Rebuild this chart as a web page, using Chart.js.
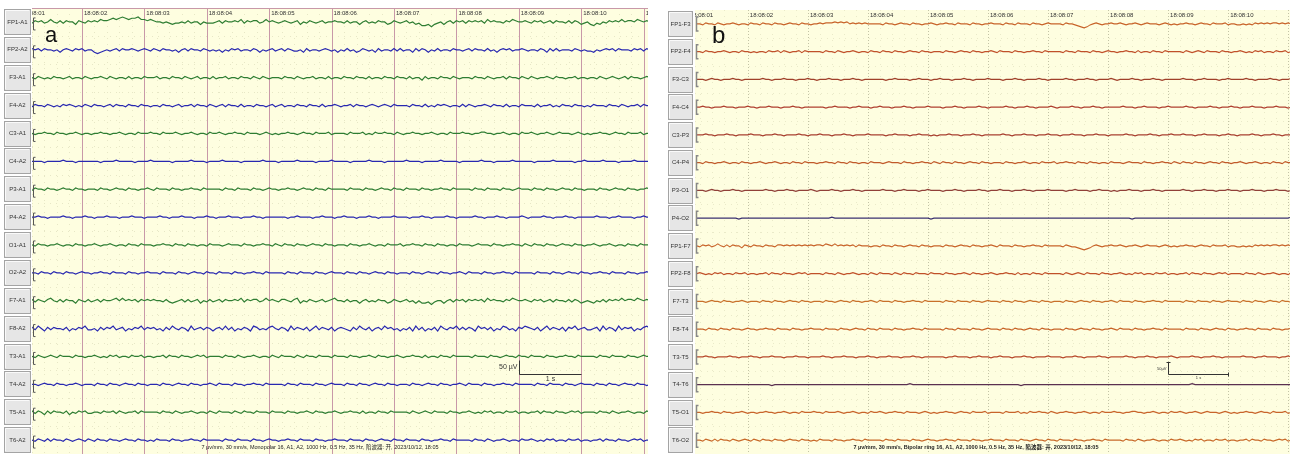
<!DOCTYPE html>
<html><head><meta charset="utf-8">
<script src="https://cdn.jsdelivr.net/npm/chart.js@4.4.0/dist/chart.umd.min.js"></script>
<style>
html,body{margin:0;padding:0;background:#fff;width:1290px;height:454px;overflow:hidden}
canvas{position:absolute;top:0}
#ca{left:0}
#cb{left:650px}
</style></head><body>
<canvas id="ca" width="650" height="454"></canvas>
<canvas id="cb" width="640" height="454"></canvas>
<script>
// 导联名
var chA = ['FP1-A1','FP2-A2','F3-A1','F4-A2','C3-A1','C4-A2','P3-A1','P4-A2','O1-A1','O2-A2','F7-A1','F8-A2','T3-A1','T4-A2','T5-A1','T6-A2'];
var chB = ['FP1-F3','FP2-F4','F3-C3','F4-C4','C3-P3','C4-P4','P3-O1','P4-O2','FP1-F7','FP2-F8','F7-T3','F8-T4','T3-T5','T4-T6','T5-O1','T6-O2'];
// 秒刻度
var secValues = [1,2,3,4,5,6,7,8,9,10,11];
var secLabels = ['18:08:01','18:08:02','18:08:03','18:08:04','18:08:05','18:08:06','18:08:07','18:08:08','18:08:09','18:08:10','18:08:11'];
var t0 = 1.15, dt = 0.05; // 采样起点(s), 间隔(s)
var uvStepA = 4.4, uvStepB = 3.6; // 每级µV
var footA = '7 µv/mm, 30 mm/s, Monopolar 16, A1, A2, 1000 Hz, 0.5 Hz, 35 Hz, 陷波器: 开, 2023/10/12, 18:05';
var footB = '7 µv/mm, 30 mm/s, Bipolar ring 16, A1, A2, 1000 Hz, 0.5 Hz, 35 Hz, 陷波器: 开, 2023/10/12, 18:05';

// 波形 (每秒一组, 5=基线)
var wavesA = [
 '54656457546465536546 56576678789878897767 65545434454645535444 56465565746566457565 45654563546545645565 54645535645465534654 56453422313453564656 46565647565546576556 54656456465546465345 32435465657566576565',
 '56564655453565465645 53234545646556545654 65465545356465546545 45354656455465354564 56465445364554565453 54645346545364554646 45536465354645546554 56465546453565645565 45546536464555465454 43545656465554656465',
 '55465454655456455465 45565465455464554655 56455465546545645546 45564554655465465455 54655465455645546455 46554655464554655465 54645536455465546545 55465546545564655465 46545565465545564554 55465456545646554565',
 '54655465454656545465 46554564655465546554 55465545645564655465 45646554645546554564 56455465546554645565 45564655456545654655 55465546454656545546 46545565465546455465 55464556454655465545 46555465546545564655',
 '55455655465545565455 45565545565455465556 55465556545565455465 56545565546555456545 45565545655465556455 55465556454655655465 45565545565455465556 55455665545565455465 56545565456555456545 45565545655465556455',
 '55555455555655545555 55545555655555455556 55555545555565555455 55655555455555565555 45555565555545555655 55545555565555455555 56555545555565555545 55555655545555565555 55455555655555545565 55556555545555655555',
 '54655465545655465545 55465545655465545565 46555465545565546555 55465546555465545655 45565545655465546555 55465554655456554655 46555465545565546555 55465546555465545655 54655465545655465545 55465545655465545565',
 '55565545555655455565 54555655545556555455 55655455565554555655 45556555455565545555 55545565555455655545 56555455565545555655 55455565545555655455 55565545556554555565 45555655455565545555 55655545565555455655',
 '55465545565455465545 56545565455465546555 45565546554655455465 55456555465545565546 54655465545655465545 55465545565455465556 45565546554655455465 55456555465545565546 54655465545655465545 56545565455465546555',
 '55546554655465545655 45565546555465545565 55465554655456554655 46555465545565546555 55465546555465545655 54655465545655465545 55465545655465545565 46555465545565546555 55465554655456554655 45565546555465545565',
 '56465467546465536546 45646556757565646565 65546434564645635464 56465565746566457565 46654673546545645675 54645535645465534654 56453533424553564656 46565647565546576556 54656456465546465345 43546465657566576565',
 '56475364655463546574 45364657456354657465 64536475465374564653 56474635465376454675 46537465463574654635 65436475463564756453 54637463546375465746 46537564635476453657 65463574654636574564 45637465374656354675',
 '55465456546555465545 56545465645546556455 45564655465545656455 55465546545565455465 46555465465546555465 55465545565465545565 45565546455465546555 55465554655456554655 46555465545565546555 55465546555465545655',
 '55545655465545565455 54655465545655465545 55465545655465545565 46555465545565546555 55465546555465545655 54655465545655465545 55465545655465545565 46555465545565546555 55465546555465545655 54655465545655465545',
 '56465364655463546564 45546556465455646555 55465546545565455465 46555465465546555465 55465545565465545565 45565546455465546555 55465456546555465545 56545465645546556455 45564655465545656455 55465546545565455465',
 '55465464655465456546 54655465545655465545 46555465545565546555 55465546555465545655 45565546555465545565 55465554655456554655 46555465545565546555 55465546545565455465 56545465645546556455 45564655465545656455'
];
var wavesB = [
 '55465546545565455465 54655465545655465545 56566676767565656555 55465545655465545565 45565546555465545565 55465546555465545655 55465543212456545565 56545565456555456545 45565545655465556455 44545465656566565655',
 '55465545565455465545 45546556465455646555 55465546545565455465 54655465545655465545 55465545655465545565 46555465545565546555 55465546555465545655 45565546455465546555 55465456546555465545 56545465645546556455',
 '55545655455565545555 55655455565554555655 45556555455565545555 55545565555455655545 56555455565545555655 55455565545555655455 55565545556554555565 45555655455565545555 55655545565555455655 55565545555655455565',
 '55655455565554555655 45556555455565545555 55545565555455655545 56555455565545555655 55455565545555655455 55565545556554555565 45555655455565545555 55655545565555455655 55565545555655455565 54555655545556555455',
 '55565545556554555565 55455565545555655455 56555455565545555655 55545565555455655545 45556555455565545555 55655455565554555655 54555655545556555455 55565545555655455565 55655545565555455655 45555655455565545555',
 '55465545565455465545 56545565455465546555 45565546554655455465 55456555465545565546 54655465545655465545 55465545565455465556 45565546554655455465 55456555465545565546 54655465545655465545 56545565455465546555',
 '55545655455565545555 55565545556554555565 45555655455565545555 55655545565555455655 55455565545555655455 56555455565545555655 55545565555455655545 45556555455565545555 55655455565554555655 54555655545556555455',
 '55555555555555455555 55555555555555555555 55555655555555555555 55555555555555555545 55555555555555555555 55555555555555555555 55555555555555555555 55555455555555555555 55555555555555555555 55555555555555555565',
 '54656457546465536546 55465546656565656565 66576575656564655545 54655465545655465545 55465545655465545565 46555465545565546555 55465443212356545565 56545565456555456545 45565545655465556455 44545465656566565655',
 '56545465645546556455 45564655465545656455 55465546545565455465 46555465465546555465 55465545565465545565 45565546455465546555 55465456546555465545 56545465645546556455 45564655465545656455 55465546545565455465',
 '55545655465545565455 54655465545655465545 55465545655465545565 46555465545565546555 55465546555465545655 54655465545655465545 55465545655465545565 46555465545565546555 55465546555465545655 54655465545655465545',
 '55546554655465545655 45565546555465545565 55465554655456554655 46555465545565546555 55465546555465545655 54655465545655465545 55465545655465545565 46555465545565546555 55465554655456554655 45565546555465545565',
 '55565545555655455565 54555655545556555455 55655455565554555655 45556555455565545555 55545565555455655545 56555455565545555655 55455565545555655455 55565545556554555565 45555655455565545555 55655545565555455655',
 '55555555555555555555 55555455555555555555 55555555555555555555 55555555555655555555 55555555555555555555 55555555455555555555 55555555555555555555 55555555555555555555 55555655555555555555 55555555555555555555',
 '55455655465545565455 45565545565455465556 55465556545565455465 56545565546555456545 45565545655465556455 55465556454655655465 45565545565455465556 55455665545565455465 56545565456555456545 45565545655465556455',
 '55465464655465456546 54655465545655465545 46555465545565546555 55465546555465545655 45565546555465545565 55465554655456554655 46555465545565546555 55465546545565455465 56545465645546556455 45564655465545656455'
];
var colorsA = ['#2e7d32','#2828b0','#2e7d32','#2828b0','#2e7d32','#2828b0','#2e7d32','#2828b0','#2e7d32','#2828b0','#2e7d32','#2828b0','#2e7d32','#2828b0','#2e7d32','#2828b0'];
var colorsB = ['#c8642a','#c0502a','#a0402a','#b04030','#a84030','#c05a2a','#904038','#3a3070','#c8642a','#c05028','#c8702a','#c86428','#b84a2c','#5a3050','#c8642a','#c86a2a'];

function decode(s, k, step){
  s = s.replace(/ /g,'');
  var out = [];
  for (var i = 0; i < s.length; i++) {
    out.push({x: t0 + i*dt, y: -(k+0.5)*100 + (s.charCodeAt(i)-53)*step});
  }
  return out;
}

function makeSets(waves, colors, step, lw){
  var sets = [];
  for (var k = 0; k < waves.length; k++) {
    sets.push({data: decode(waves[k], k, step), borderColor: colors[k], borderWidth: lw, pointRadius: 0, tension: 0, fill: false});
  }
  return sets;
}

function eegPlugin(o){
  return {
    id: 'eeg',
    beforeDatasetsDraw: function(chart){
      var c = chart.ctx, a = chart.chartArea, x = chart.scales.x, y = chart.scales.y;
      c.save();
      c.fillStyle = '#fff'; c.fillRect(0, 0, chart.width, chart.height);
      c.fillStyle = '#fefee0'; c.fillRect(a.left, a.top, a.right-a.left, a.bottom-a.top);
      // 细网格
      c.lineWidth = 1; c.strokeStyle = o.minor; c.setLineDash([1,5]);
      for (var i = Math.ceil(x.min*5); i <= x.max*5; i++) {
        if (i % 5 === 0) continue;
        var px = Math.round(x.getPixelForValue(i/5)) + 0.5;
        c.beginPath(); c.moveTo(px, a.top); c.lineTo(px, a.bottom); c.stroke();
      }
      for (var k = 1; k < o.labels.length; k++) {
        var py = Math.round(y.getPixelForValue(-k*100)) + 0.5;
        c.beginPath(); c.moveTo(a.left, py); c.lineTo(a.right, py); c.stroke();
      }
      // 秒线
      c.strokeStyle = o.major; c.setLineDash(o.majorDash);
      secValues.forEach(function(v){
        if (v < x.min || v > x.max) return;
        var px = Math.round(x.getPixelForValue(v)) + 0.5;
        c.beginPath(); c.moveTo(px, a.top); c.lineTo(px, a.bottom); c.stroke();
      });
      c.setLineDash([]);
      if (o.topLine) {
        c.strokeStyle = o.major; c.beginPath(); c.moveTo(a.left, a.top+0.5); c.lineTo(a.right, a.top+0.5); c.stroke();
      }
      // 导联按钮
      var slot = (a.bottom - a.top) / o.labels.length;
      c.font = '6px "Liberation Sans", Arial, sans-serif';
      c.textAlign = 'center'; c.textBaseline = 'middle';
      o.labels.forEach(function(lab, k){
        var by = Math.round(a.top + k*slot) + 1;
        var bh = Math.round(slot) - 2;
        c.fillStyle = '#e6e6e6'; c.fillRect(o.bx, by, o.bw, bh);
        c.strokeStyle = '#a4a4a4'; c.strokeRect(o.bx+0.5, by+0.5, o.bw-1, bh-1);
        c.strokeStyle = '#fafafa'; c.beginPath(); c.moveTo(o.bx+1.5, by+bh-2); c.lineTo(o.bx+1.5, by+1.5); c.lineTo(o.bx+o.bw-2, by+1.5); c.stroke();
        c.fillStyle = '#333';
        c.fillText(lab, o.bx + o.bw/2, y.getPixelForValue(-(k+0.5)*100));
      });
      c.restore();
    },
    afterDatasetsDraw: function(chart){
      var c = chart.ctx, a = chart.chartArea, x = chart.scales.x, y = chart.scales.y;
      c.save();
      // 时间标签
      c.beginPath(); c.rect(a.left, a.top, a.right-a.left, a.bottom-a.top); c.clip();
      c.font = '6px "Liberation Sans", Arial, sans-serif';
      c.fillStyle = '#333'; c.textAlign = 'left'; c.textBaseline = 'middle';
      secValues.forEach(function(v, i){
        c.fillText(secLabels[i], x.getPixelForValue(v) + 2, a.top + 5);
      });
      c.restore();
      c.save();
      // 定标括号
      c.strokeStyle = o.bracket; c.lineWidth = o.bracketW;
      o.labels.forEach(function(lab, k){
        var cy = y.getPixelForValue(-(k+0.5)*100);
        var bx = a.left + 1.5;
        c.beginPath();
        c.moveTo(bx+2, cy+o.bTop); c.lineTo(bx, cy+o.bTop); c.lineTo(bx, cy+o.bBot); c.lineTo(bx+2, cy+o.bBot);
        c.stroke();
      });
      // 比例尺
      var sx0 = Math.round(x.getPixelForValue(9)) + 0.5, sx1 = Math.round(x.getPixelForValue(10)) + 0.5;
      var sy0 = Math.round(y.getPixelForValue(o.barBase)) + 0.5, sy1 = Math.round(y.getPixelForValue(o.barBase + o.barLen)) + 0.5;
      c.strokeStyle = '#333'; c.lineWidth = 1;
      c.beginPath(); c.moveTo(sx0, sy1); c.lineTo(sx0, sy0); c.lineTo(sx1, sy0); c.stroke();
      if (o.barCap) { c.beginPath(); c.moveTo(sx0-2, sy1); c.lineTo(sx0+2, sy1); c.moveTo(sx1, sy0-2); c.lineTo(sx1, sy0+2); c.stroke(); }
      c.fillStyle = '#333';
      c.font = o.barFont;
      c.textAlign = 'right'; c.textBaseline = 'middle';
      c.fillText(o.barText, sx0 - 2, (sy0 + sy1)/2);
      c.textAlign = 'center'; c.textBaseline = 'top';
      c.fillText('1 s', (sx0 + sx1)/2, sy0 + 1);
      // 面板字母
      c.font = o.letterFont; c.textAlign = 'left'; c.textBaseline = 'alphabetic'; c.fillStyle = '#111';
      c.fillText(o.letter, o.lx, o.ly);
      // 底部信息
      c.font = o.footFont; c.textAlign = 'center'; c.textBaseline = 'middle'; c.fillStyle = '#222';
      c.fillText(o.foot, o.fx, 447);
      c.restore();
    }
  };
}

function drawEeg(id, sets, xr, pad, o){
  var ctx = document.getElementById(id).getContext('2d');
  return new Chart(ctx, {
    type: 'line',
    data: {datasets: sets},
    options: {
      responsive: false, animation: false, devicePixelRatio: 1, events: [],
      layout: {padding: pad},
      plugins: {legend: {display: false}, tooltip: {enabled: false}},
      scales: {
        x: {type: 'linear', min: xr[0], max: xr[1], display: false},
        y: {min: -1600, max: 0, display: false}
      }
    },
    plugins: [eegPlugin(o)]
  });
}

drawEeg('ca', makeSets(wavesA, colorsA, uvStepA, 1.2), [1.2, 11.07], {left: 32, top: 8, right: 2, bottom: 0}, {
  labels: chA, minor: 'rgba(190,190,150,0.35)', major: '#c898a8', majorDash: [], topLine: true,
  bx: 4, bw: 27, bracket: '#555', bracketW: 1, bTop: -4, bBot: 8,
  barBase: -1314, barLen: 50, barText: '50 µV', barCap: false, barFont: '7px "Liberation Sans", Arial, sans-serif',
  letter: 'a', letterFont: '22px "Liberation Sans", Arial, sans-serif', lx: 45, ly: 42,
  foot: footA, footFont: '5.5px "Liberation Sans", "Noto Sans CJK SC", sans-serif', fx: 320
});
drawEeg('cb', makeSets(wavesB, colorsB, uvStepB, 1.1), [1.12, 11.03], {left: 45, top: 10, right: 0, bottom: 0}, {
  labels: chB, minor: 'rgba(190,190,150,0.3)', major: 'rgba(170,170,140,0.7)', majorDash: [1,2], topLine: false,
  bx: 18, bw: 25, bracket: '#888', bracketW: 1.5, bTop: -7, bBot: 7,
  barBase: -1313, barLen: 45, barText: '50µV', barCap: true, barFont: '4px "Liberation Sans", Arial, sans-serif',
  letter: 'b', letterFont: '24px "Liberation Sans", Arial, sans-serif', lx: 62, ly: 43,
  foot: footB, footFont: 'bold 5.5px "Liberation Sans", "Noto Sans CJK SC", sans-serif', fx: 326
});
</script>
</body></html>
